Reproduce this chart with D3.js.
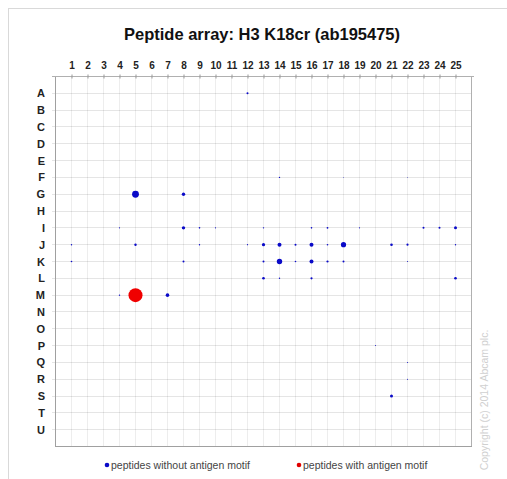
<!DOCTYPE html>
<html><head><meta charset="utf-8">
<script src="https://cdn.jsdelivr.net/npm/d3@7"></script>
<style>body{margin:0;background:#fff}svg{display:block}text{font-family:"Liberation Sans",Arial,sans-serif}</style>
</head><body><svg id="c" width="507" height="479"></svg>
<script>
const title = "Peptide array: H3 K18cr (ab195475)";
const columns = d3.range(1, 26).map(String);
const rows = "ABCDEFGHIJKLMNOPQRSTU".split("");
const legendLabels = ["peptides without antigen motif", "peptides with antigen motif"];
// spots: [row, column, relative intensity (radius units)]
const spotsWithout = [
  ["A",12,1.0],
  ["F",14,0.7],["F",18,0.4],["F",22,0.4],
  ["G",5,3.4],["G",8,1.7],
  ["I",4,0.6],["I",8,1.7],["I",9,0.8],["I",10,0.6],["I",13,0.7],["I",16,0.8],["I",17,0.9],["I",19,0.6],["I",23,1.0],["I",24,1.0],["I",25,1.5],
  ["J",1,0.7],["J",5,1.2],["J",9,0.7],["J",12,0.6],["J",13,1.6],["J",14,2.0],["J",15,1.0],["J",16,2.0],["J",17,0.8],["J",18,2.6],["J",21,1.3],["J",22,1.1],["J",25,0.7],
  ["K",1,0.8],["K",8,1.0],["K",13,1.0],["K",14,2.7],["K",15,0.8],["K",16,2.0],["K",17,1.1],["K",18,1.0],["K",22,0.5],
  ["L",13,1.3],["L",14,0.7],["L",16,1.1],["L",25,1.3],
  ["M",4,0.7],["M",7,1.8],
  ["P",20,0.5],["Q",22,0.5],["R",22,0.5],
  ["S",21,1.5]
];
const spotsWith = [["M",5,7.0]];

const svg = d3.select("#c");
const L = 55, R = 471, T = 76, B = 446;
const x = d3.scaleLinear().domain([0, 26]).range([L, R]);
const y = d3.scaleLinear().domain([0, 22]).range([T, B]);

svg.append("rect").attr("x",8.5).attr("y",8.5).attr("width",520).attr("height",500)
  .attr("fill","none").attr("stroke","#d9d9d9");

svg.append("text").attr("x",262).attr("y",40).attr("text-anchor","middle")
  .attr("font-size",16.5).attr("font-weight","bold").attr("fill","#111").text(title);

// grid
const g = svg.append("g");
g.selectAll(".v").data(columns).join("line")
  .attr("x1",(d,i)=>x(i+1)+0.5).attr("x2",(d,i)=>x(i+1)+0.5).attr("y1",T).attr("y2",B)
  .attr("stroke","rgba(0,0,0,0.07)");
g.selectAll(".h").data(rows).join("line")
  .attr("y1",(d,i)=>Math.round(y(i+1))+0.5).attr("y2",(d,i)=>Math.round(y(i+1))+0.5).attr("x1",L-3).attr("x2",R)
  .attr("stroke","rgba(0,0,0,0.10)");

// borders
svg.append("line").attr("x1",L+0.5).attr("x2",L+0.5).attr("y1",T).attr("y2",B+0.5).attr("stroke","#a0a0a0");
svg.append("line").attr("x1",R+0.5).attr("x2",R+0.5).attr("y1",T).attr("y2",B+0.5).attr("stroke","#b0b0b0");
svg.append("line").attr("x1",L).attr("x2",R+1).attr("y1",B+0.5).attr("y2",B+0.5).attr("stroke","#a0a0a0");
svg.append("line").attr("x1",L-3).attr("x2",R+3).attr("y1",T+0.5).attr("y2",T+0.5).attr("stroke","#b0b0b0");

// top axis
const topAxis = d3.axisTop(x).tickValues(d3.range(1,26)).tickSize(3).tickFormat(d=>columns[d-1]);
const ta = svg.append("g").attr("transform",`translate(0.5,${T+0.5})`).call(topAxis);
ta.select(".domain").remove();
ta.selectAll(".tick line").attr("stroke","#999").attr("y2",-2).attr("y1",2);
ta.selectAll("text").attr("font-size",10).attr("font-weight","bold").attr("fill","#222").attr("dy","-0.2em")
  .style("font-family","'Liberation Sans',Arial,sans-serif");

// left axis labels
const leftAxis = d3.axisLeft(y).tickValues(d3.range(1,22)).tickSize(0).tickPadding(10).tickFormat(d=>rows[d-1]);
const lg = svg.append("g").attr("transform",`translate(${L},0.5)`).call(leftAxis);
lg.select(".domain").remove();
lg.selectAll("text").attr("font-size",11).attr("font-weight","bold").attr("fill","#222")
  .style("font-family","'Liberation Sans',Arial,sans-serif");

// spots
const rIdx = r => rows.indexOf(r) + 1;
svg.append("g").selectAll("circle").data(spotsWithout).join("circle")
  .attr("cx",d=>x(d[1])+0.5).attr("cy",d=>y(rIdx(d[0]))+0.5).attr("r",d=>d[2]).attr("fill","#0a0ac8");
svg.append("g").selectAll("circle").data(spotsWith).join("circle")
  .attr("cx",d=>x(d[1])+0.5).attr("cy",d=>y(rIdx(d[0]))+0.5).attr("r",d=>d[2]).attr("fill","#f00000");

// legend
const leg = [[107, "#0a0ac8"], [299, "#e00000"]];
leg.forEach((l,i)=>{
  svg.append("circle").attr("cx",l[0]).attr("cy",465).attr("r",2.3).attr("fill",l[1]);
  svg.append("text").attr("x",l[0]+4).attr("y",469).attr("font-size",10.5).attr("fill","#444").text(legendLabels[i]);
});

// copyright
svg.append("text").attr("transform","translate(488,400) rotate(-90)").attr("text-anchor","middle")
  .attr("font-size",10.5).attr("fill","#d0d0d0").text("Copyright (c) 2014 Abcam plc.");
</script></body></html>
